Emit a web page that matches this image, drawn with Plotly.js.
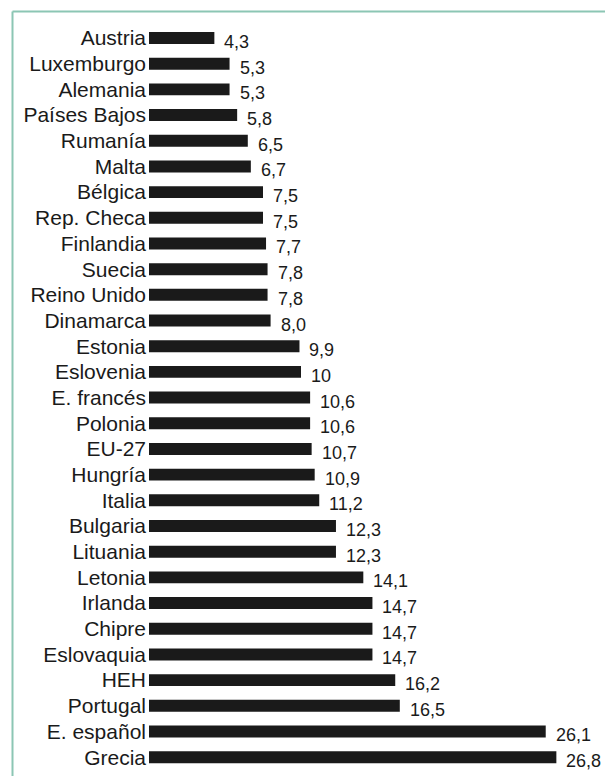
<!DOCTYPE html>
<html>
<head>
<meta charset="utf-8">
<script src="https://cdn.plot.ly/plotly-3.0.1.min.js"></script>
<style>
html,body{margin:0;padding:0;background:#fff;}
#chart{width:605px;height:776px;}
</style>
</head>
<body>
<div id="chart"></div>
<script>
const categories = ["Austria","Luxemburgo","Alemania","Países Bajos","Rumanía","Malta","Bélgica","Rep. Checa","Finlandia","Suecia","Reino Unido","Dinamarca","Estonia","Eslovenia","E. francés","Polonia","EU-27","Hungría","Italia","Bulgaria","Lituania","Letonia","Irlanda","Chipre","Eslovaquia","HEH","Portugal","E. español","Grecia"];
const values = [4.3,5.3,5.3,5.8,6.5,6.7,7.5,7.5,7.7,7.8,7.8,8.0,9.9,10,10.6,10.6,10.7,10.9,11.2,12.3,12.3,14.1,14.7,14.7,14.7,16.2,16.5,26.1,26.8];
const valueLabels = ["4,3","5,3","5,3","5,8","6,5","6,7","7,5","7,5","7,7","7,8","7,8","8,0","9,9","10","10,6","10,6","10,7","10,9","11,2","12,3","12,3","14,1","14,7","14,7","14,7","16,2","16,5","26,1","26,8"];

const W = 456, H = 748, L = 149, T = 22;
const px = x => (x - L) / W;
const py = y => 1 - (y - T) / H;
const frameColor = "#8cc6b4";

const annotations = values.map((v, i) => ({
  x: v, y: categories[i], xref: "x", yref: "y",
  text: valueLabels[i], showarrow: false,
  xanchor: "left", yanchor: "middle", xshift: 8, yshift: -4,
  font: {family: "Liberation Sans, Arial, sans-serif", size: 18, color: "#1a1a1a"}
}));

const data = [{
  type: "bar", orientation: "h",
  x: values, y: categories,
  marker: {color: "#1a1a1a"},
  hoverinfo: "none"
}];

const layout = {
  width: 605, height: 776,
  margin: {l: L, r: 605 - L - W, t: T, b: 776 - T - H, pad: 0},
  paper_bgcolor: "#fff", plot_bgcolor: "#fff",
  showlegend: false,
  bargap: 0.535,
  xaxis: {range: [0, 30], visible: false, fixedrange: true},
  yaxis: {
    type: "category", autorange: "reversed",
    showgrid: false, zeroline: false, showline: false, ticks: "",
    ticklabelstandoff: 2,
    tickfont: {family: "Liberation Sans, Arial, sans-serif", size: 21, color: "#1a1a1a"},
    automargin: false, fixedrange: true
  },
  annotations: annotations,
  shapes: [
    {type: "line", xref: "paper", yref: "paper", x0: px(12.5), x1: px(605), y0: py(11.5), y1: py(11.5), line: {color: frameColor, width: 2}},
    {type: "line", xref: "paper", yref: "paper", x0: px(12.5), x1: px(12.5), y0: py(11.5), y1: py(776), line: {color: frameColor, width: 2}}
  ]
};

Plotly.newPlot("chart", data, layout, {displayModeBar: false, staticPlot: true});
</script>
</body>
</html>
